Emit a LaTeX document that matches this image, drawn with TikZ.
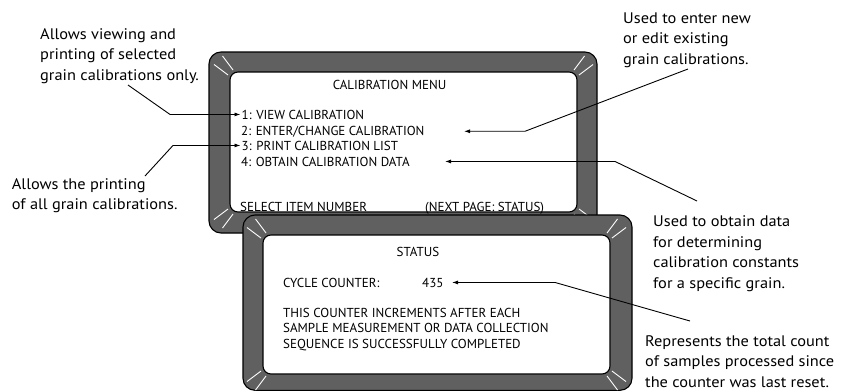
\documentclass[tikz,border=0pt]{standalone}
\usepackage{fontspec}
\setmainfont{PT Sans}
\newfontfamily\annfont[FakeStretch=1.07]{PT Sans}
\usetikzlibrary{arrows.meta}
\definecolor{framegray}{RGB}{96,96,96}
\tikzset{
  frameouter/.style={draw=black, line width=1.1pt, fill=framegray, rounded corners=12pt},
  frameinner/.style={draw=black, line width=1.1pt, fill=white, rounded corners=8pt},
  glint/.style={draw=white, line width=0.9pt},
  scrtext/.style={inner sep=0pt, font=\fontsize{13}{15}\selectfont},
  anntext/.style={inner sep=0pt, anchor=north west, align=left, font=\annfont\fontsize{15.3}{20.6}\selectfont},
  callout/.style={draw=black, line width=0.9pt, -{Latex[length=6pt,width=4pt]}},
}
\newcommand{\myglints}[4]{%
  \draw[glint] (#1+#3*16, #2+#4*7.5) -- (#1+#3*2, #2-#4*3);
  \draw[glint] (#1+#3*7.5, #2+#4*16) -- (#1-#3*3, #2+#4*2);
}
\begin{document}
\begin{tikzpicture}[x=1pt,y=-1pt]
\useasboundingbox (0,0) rectangle (841,391);
% ---------- screen 1 ----------
\draw[frameouter] (209,52) rectangle (597,233);
\myglints{230}{72}{-1}{-1}
\myglints{577}{72}{1}{-1}
\myglints{230}{212}{-1}{1}
\myglints{577}{212}{1}{1}
\draw[frameinner] (230,72) rectangle (577,212);
\node[scrtext, anchor=base] (menuTitle) at (389.5,89) {CALIBRATION MENU};
\node[scrtext, anchor=base west] (item1) at (241.5,119) {1: VIEW CALIBRATION};
\node[scrtext, anchor=base west] (item2) at (241,135) {2: ENTER/CHANGE CALIBRATION};
\node[scrtext, anchor=base west] (item3) at (241.5,150) {3: PRINT CALIBRATION LIST};
\node[scrtext, anchor=base west] (item4) at (241,166) {4: OBTAIN CALIBRATION DATA};
\node[scrtext, anchor=base west] (select) at (240,211.5) {SELECT ITEM NUMBER};
\node[scrtext, anchor=base west] (nextpage) at (425,211.5) {(NEXT PAGE: STATUS)};
% ---------- screen 2 ----------
\draw[frameouter] (243,215) rectangle (632,390.3);
\myglints{263}{235}{-1}{-1}
\myglints{610}{235}{1}{-1}
\myglints{263}{374}{-1}{1}
\myglints{610}{374}{1}{1}
\draw[frameinner] (263,235) rectangle (610,374);
\node[scrtext, anchor=base] (statusTitle) at (418,256) {STATUS};
\node[scrtext, anchor=base west] (cycle) at (283,287) {CYCLE COUNTER:};
\node[scrtext, anchor=base west] (count) at (422,287) {435};
\node[scrtext, anchor=base west] (desc1) at (283,317.5) {THIS COUNTER INCREMENTS AFTER EACH};
\node[scrtext, anchor=base west] (desc2) at (283,332.5) {SAMPLE MEASUREMENT OR DATA COLLECTION};
\node[scrtext, anchor=base west] (desc3) at (283,348) {SEQUENCE IS SUCCESSFULLY COMPLETED};
% ---------- annotations ----------
\node[anntext] (annView) at (40,28) {Allows viewing and\\printing of selected\\grain calibrations only.};
\node[anntext] (annPrint) at (11.7,178) {Allows the printing\\of all grain calibrations.};
\node[anntext] (annEnter) at (623,12.3) {Used to enter new\\or edit existing\\grain calibrations.};
\node[anntext] (annObtain) at (653,215.7) {Used to obtain data\\for determining\\calibration constants\\for a specific grain.};
\node[anntext] (annRep) at (645,335.3) {Represents the total count\\of samples processed since\\the counter was last reset.};
% ---------- connector points ----------
\coordinate (v0) at (128,85);   \coordinate (v1) at (170,0);
\coordinate (p0) at (145,176);  \coordinate (p1) at (173,0);
\coordinate (e0) at (688,69);   \coordinate (e1) at (525,0);  \coordinate (e2) at (464,0);
\coordinate (o0) at (697,201);  \coordinate (o1) at (615,0);  \coordinate (o2) at (445,0);
\coordinate (r0) at (690,321);  \coordinate (r1) at (555,0);  \coordinate (r2) at (452,0);
% ---------- connectors ----------
\draw[callout] (v0) -- (v1 |- item1.west) -- ([xshift=-1pt]item1.west);
\draw[callout] (p0) -- (p1 |- item3.west) -- ([xshift=-1pt]item3.west);
\draw[callout] (e0) -- (e1 |- item2.east) -- (e2 |- item2.east);
\draw[callout] (o0) -- (o1 |- item4.east) -- (o2 |- item4.east);
\draw[callout] (r0) -- (r1 |- count.east) -- (r2 |- count.east);
\end{tikzpicture}
\end{document}
